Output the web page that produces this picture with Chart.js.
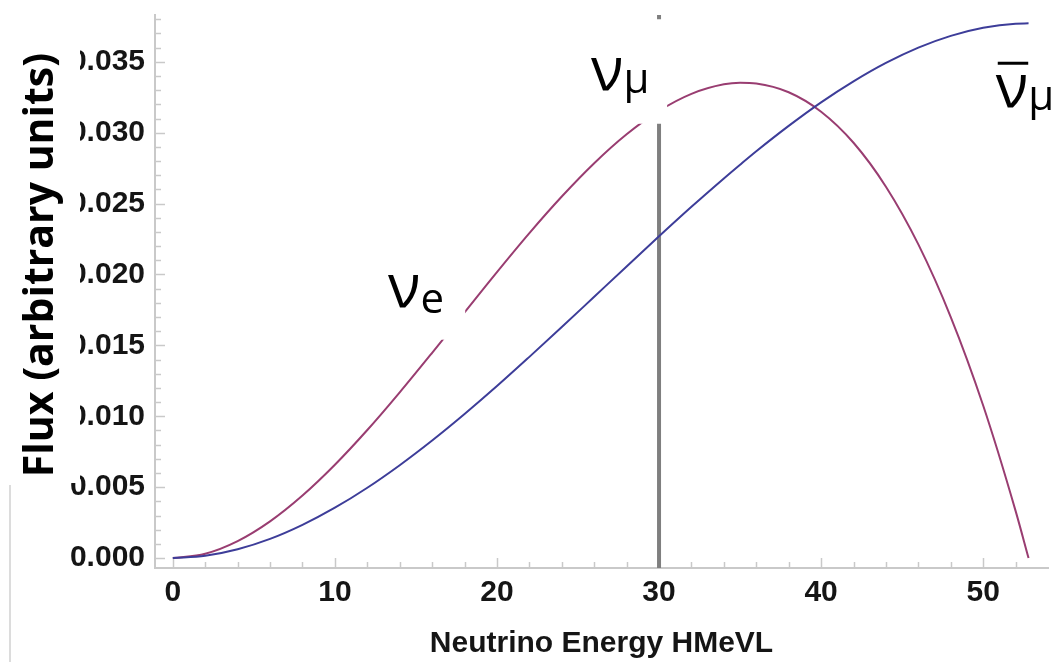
<!DOCTYPE html>
<html>
<head>
<meta charset="utf-8">
<script src="https://cdn.jsdelivr.net/npm/chart.js@4/dist/chart.umd.min.js"></script>
<style>
  html, body { margin: 0; background: #fff; }
  #wrap { position: relative; width: 1052px; height: 662px; }
  #edge { position: absolute; left: 9px; top: 485px; width: 2px; height: 177px; background: #dcdcdc; }
</style>
</head>
<body>
<div id="wrap">
  <canvas id="flux" width="1052" height="662"></canvas>
  <div id="edge"></div>
</div>
<script>
// neutrino energy samples, MeV
const energy = [0, 2, 4, 6, 8, 10, 12, 14, 16, 18, 20, 22, 24, 26, 28, 30, 32, 34, 35, 36, 38, 40, 42, 44, 46, 48, 50, 52, 52.8];
// nu_e flux
const nuE = [0, 0.00031, 0.00120, 0.00259, 0.00441, 0.00658, 0.00903, 0.01169, 0.01448, 0.01733, 0.02017, 0.02292, 0.02550,
  0.02785, 0.02989, 0.03154, 0.03274, 0.03341, 0.03352, 0.03347, 0.03285, 0.03148, 0.02929, 0.02619, 0.02212, 0.01700, 0.01076, 0.00333, 0];
// anti nu_mu flux
const antiNuMu = [0, 0.00016, 0.00062, 0.00135, 0.00234, 0.00355, 0.00496, 0.00655, 0.00829, 0.01016, 0.01213, 0.01419, 0.01629,
  0.01843, 0.02057, 0.02269, 0.02477, 0.02677, 0.02774, 0.02869, 0.03048, 0.03214, 0.03362, 0.03492, 0.03600, 0.03683, 0.03740, 0.03769, 0.03771];
// prompt nu_mu line
const nuMuEnergy = 30;

const xRange = [-1.1, 54];
const yRange = [-0.0007, 0.0383];
const xTicks = [0, 10, 20, 30, 40, 50];
const xTickLabels = ['0', '10', '20', '30', '40', '50'];
const yTicks = [0, 0.005, 0.010, 0.015, 0.020, 0.025, 0.030, 0.035];
const yTickLabels = ['0.000', '0.005', '0.010', '0.015', '0.020', '0.025', '0.030', '0.035'];
const xMinorStep = 2;
const yMinorStep = 0.001;

// name tags on the curves (text anchor + white backing box, data units)
const tags = [
  { main: 'ν', sub: 'μ', x: 25.93, y: 0.03303, drop: 3, box: [24.8, 30.5, 0.0380, 0.03063] },
  { main: 'ν', sub: 'e', x: 13.40, y: 0.01772, drop: 6, box: [12.48, 18.04, 0.02139, 0.01540] },
  { main: 'ν', sub: 'μ', x: 50.9, y: 0.03183, drop: 3, bar: true }
];

const purple = '#993d71';
const blue = '#3d3d99';
const inkColor = '#151515';
const tickFont = { family: 'Liberation Sans', size: 30, weight: 'bold' };

function pairs(ys) {
  return energy.map((e, i) => ({ x: e, y: ys[i] }));
}

function labelFor(list, labels) {
  return v => {
    const i = list.findIndex(t => Math.abs(t - v) < 1e-9);
    return i < 0 ? '' : labels[i];
  };
}

// minor tick positions from 0 up to the axis end
function minorTicks(step, max) {
  const out = [];
  for (let i = 0; i * step <= max + 1e-12; i++) {
    out.push({ value: Math.round(i * step * 1e6) / 1e6 });
  }
  return out;
}

const axisTicks = {
  id: 'axisTicks',
  beforeDatasetsDraw(chart) {
    const { ctx, chartArea, scales: { x, y } } = chart;
    ctx.save();
    ctx.strokeStyle = '#c9c9c9';
    ctx.lineWidth = 1.5;
    ctx.beginPath();
    x.ticks.forEach(t => {
      const major = xTicks.some(m => Math.abs(m - t.value) < 1e-9);
      const px = Math.round(x.getPixelForValue(t.value)) + 0.5;
      ctx.moveTo(px, chartArea.bottom);
      ctx.lineTo(px, chartArea.bottom - (major ? 10 : 6));
    });
    y.ticks.forEach(t => {
      const major = yTicks.some(m => Math.abs(m - t.value) < 1e-9);
      const py = Math.round(y.getPixelForValue(t.value)) + 0.5;
      ctx.moveTo(chartArea.left, py);
      ctx.lineTo(chartArea.left + (major ? 10 : 6), py);
    });
    ctx.stroke();
    ctx.restore();
  },
  afterDatasetsDraw(chart) {
    const { ctx, scales: { x, y } } = chart;
    ctx.save();
    tags.forEach(tag => {
      if (tag.box) {
        const [x0, x1, y0, y1] = tag.box;
        const l = x.getPixelForValue(x0), r = x.getPixelForValue(x1);
        const t = y.getPixelForValue(y0), b = y.getPixelForValue(y1);
        ctx.fillStyle = '#fff';
        ctx.fillRect(l, t, r - l, b - t);
      }
      const px = x.getPixelForValue(tag.x), py = y.getPixelForValue(tag.y);
      ctx.fillStyle = '#000';
      ctx.textAlign = 'left';
      ctx.textBaseline = 'alphabetic';
      ctx.font = '60px "Open Sans"';
      ctx.fillText(tag.main, px - 2, py);
      const w = ctx.measureText(tag.main).width;
      ctx.font = '42px "Open Sans"';
      ctx.fillText(tag.sub, px + w - 2, py + tag.drop);
      if (tag.bar) {
        ctx.fillRect(px, py - 45, w - 2, 3);
      }
    });
    ctx.restore();
  },
  afterDraw(chart) {
    const { ctx } = chart;
    ctx.save();
    // vertical axis title sits on a white backing
    ctx.fillStyle = '#fff';
    ctx.fillRect(0, 0, 80, 483);
    ctx.translate(53, 265);
    ctx.rotate(-Math.PI / 2);
    ctx.fillStyle = '#000';
    ctx.font = 'bold 41px "Open Sans"';
    ctx.textAlign = 'center';
    ctx.textBaseline = 'alphabetic';
    ctx.fillText('Flux (arbitrary units)', 0, 0);
    ctx.restore();
  }
};

new Chart(document.getElementById('flux'), {
  type: 'line',
  data: {
    datasets: [
      {
        label: 'nu_mu',
        data: [{ x: nuMuEnergy, y: yRange[0] }, { x: nuMuEnergy, y: yRange[1] }],
        borderColor: '#7f7f7f',
        borderWidth: 4,
        pointRadius: 0,
        order: 3
      },
      {
        label: 'nu_e',
        data: pairs(nuE),
        borderColor: purple,
        borderWidth: 2,
        pointRadius: 0,
        cubicInterpolationMode: 'monotone',
        order: 2
      },
      {
        label: 'anti nu_mu',
        data: pairs(antiNuMu),
        borderColor: blue,
        borderWidth: 2,
        pointRadius: 0,
        cubicInterpolationMode: 'monotone',
        order: 1
      }
    ]
  },
  options: {
    responsive: false,
    animation: false,
    layout: { padding: { top: 15, right: 4, left: 0, bottom: 0 } },
    plugins: { legend: { display: false }, tooltip: { enabled: false } },
    scales: {
      x: {
        type: 'linear',
        min: xRange[0],
        max: xRange[1],
        afterBuildTicks: s => { s.ticks = minorTicks(xMinorStep, xRange[1] - 1); },
        afterFit: s => { s.height = 94; s.paddingLeft = 0; s.paddingRight = 0; },
        grid: { display: false, drawTicks: false },
        border: { display: true, color: '#c9c9c9', width: 2 },
        ticks: {
          autoSkip: false,
          maxRotation: 0,
          padding: 7,
          color: inkColor,
          font: tickFont,
          callback: labelFor(xTicks, xTickLabels)
        },
        title: {
          display: true,
          text: 'Neutrino Energy HMeVL',
          color: inkColor,
          padding: { top: 0, bottom: 0 },
          font: { family: 'Liberation Sans', size: 30, weight: 'bold' }
        }
      },
      y: {
        type: 'linear',
        min: yRange[0],
        max: yRange[1],
        afterBuildTicks: s => { s.ticks = minorTicks(yMinorStep, yRange[1]); },
        afterFit: s => { s.width = 155; s.paddingTop = 0; s.paddingBottom = 0; },
        grid: { display: false, drawTicks: false },
        border: { display: true, color: '#c9c9c9', width: 2 },
        ticks: {
          autoSkip: false,
          padding: 10,
          color: inkColor,
          font: tickFont,
          callback: labelFor(yTicks, yTickLabels)
        }
      }
    }
  },
  plugins: [axisTicks]
});
</script>
</body>
</html>
